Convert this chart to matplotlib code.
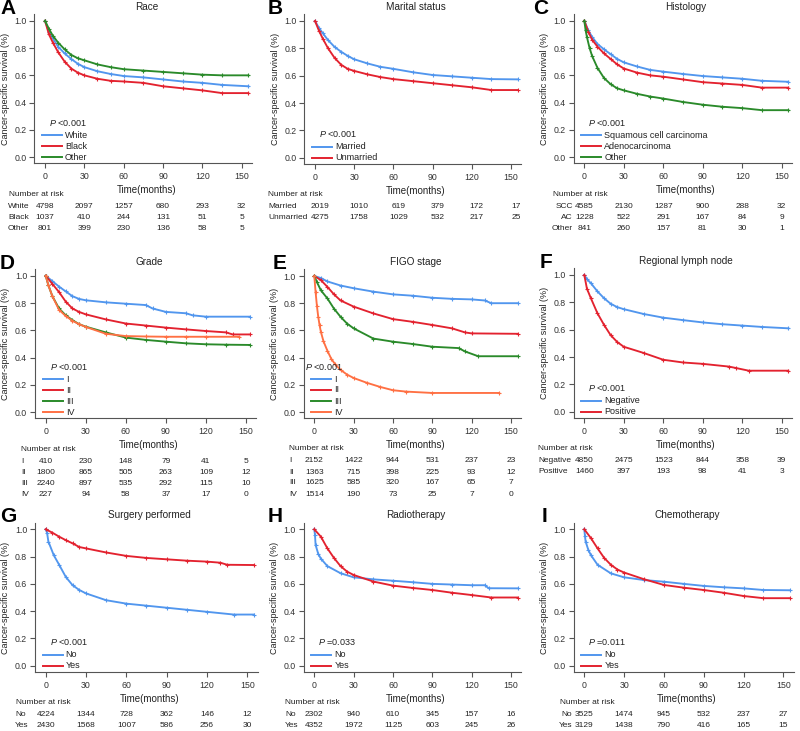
import numpy as np
import matplotlib
matplotlib.use("Agg")
import matplotlib.pyplot as plt

plt.rcParams['font.family'] = ['Liberation Sans', 'DejaVu Sans']
plt.rcParams['mathtext.fontset'] = 'custom'
plt.rcParams['mathtext.it'] = 'Liberation Sans:italic'
plt.rcParams['mathtext.rm'] = 'Liberation Sans'

BLUE = '#5196ee'
RED = '#e3222f'
GREEN = '#2a8a2a'
ORANGE = '#ff7043'

risk_times = [0, 30, 60, 90, 120, 150]

# ---- A: Race
race_t = [0, 3, 6, 10, 15, 20, 25, 30, 40, 50, 60, 75, 90, 105, 120, 135, 155]
race_white = [1.0, 0.92, 0.87, 0.81, 0.76, 0.72, 0.685, 0.66, 0.63, 0.61, 0.595, 0.585, 0.57, 0.555, 0.545, 0.53, 0.52]
race_black = [1.0, 0.90, 0.84, 0.77, 0.70, 0.65, 0.62, 0.60, 0.575, 0.56, 0.555, 0.545, 0.52, 0.505, 0.49, 0.47, 0.47]
race_other = [1.0, 0.94, 0.89, 0.84, 0.79, 0.75, 0.725, 0.71, 0.68, 0.66, 0.645, 0.635, 0.625, 0.615, 0.605, 0.60, 0.60]
race_risk_white = [4798, 2097, 1257, 680, 293, 32]
race_risk_black = [1037, 410, 244, 131, 51, 5]
race_risk_other = [801, 399, 230, 136, 58, 5]

# ---- B: Marital status
mar_t = [0, 3, 6, 10, 15, 20, 25, 30, 40, 50, 60, 75, 90, 105, 120, 135, 155]
mar_married = [1.0, 0.95, 0.91, 0.86, 0.81, 0.775, 0.745, 0.72, 0.69, 0.665, 0.65, 0.625, 0.605, 0.595, 0.585, 0.575, 0.573]
mar_unmarried = [1.0, 0.93, 0.87, 0.80, 0.73, 0.68, 0.65, 0.635, 0.61, 0.59, 0.575, 0.56, 0.545, 0.53, 0.515, 0.495, 0.495]
mar_risk_married = [2019, 1010, 619, 379, 172, 17]
mar_risk_unmarried = [4275, 1758, 1029, 532, 217, 25]

# ---- C: Histology
hist_t = [0, 3, 6, 10, 15, 20, 25, 30, 40, 50, 60, 75, 90, 105, 120, 135, 155]
hist_scc = [1.0, 0.93, 0.88, 0.83, 0.79, 0.755, 0.72, 0.695, 0.665, 0.64, 0.627, 0.61, 0.595, 0.585, 0.575, 0.56, 0.553]
hist_ac = [1.0, 0.92, 0.86, 0.81, 0.76, 0.72, 0.68, 0.65, 0.62, 0.60, 0.59, 0.57, 0.55, 0.54, 0.53, 0.51, 0.51]
hist_other_t = [0, 1, 2, 4, 6, 10, 15, 20, 25, 30, 40, 50, 60, 75, 90, 105, 120, 135, 155]
hist_other = [1.0, 0.93, 0.88, 0.80, 0.74, 0.655, 0.58, 0.535, 0.505, 0.49, 0.465, 0.445, 0.43, 0.405, 0.385, 0.37, 0.36, 0.345, 0.345]
hist_risk_scc = [4585, 2130, 1287, 900, 288, 32]
hist_risk_ac = [1228, 522, 291, 167, 84, 9]
hist_risk_other = [841, 260, 157, 81, 30, 1]

# ---- D: Grade
grade_t1 = [0, 5, 10, 15, 20, 25, 30, 45, 60, 75, 80, 90, 105, 110, 120, 153]
grade_1 = [1.0, 0.96, 0.92, 0.885, 0.85, 0.83, 0.82, 0.805, 0.795, 0.785, 0.76, 0.735, 0.725, 0.71, 0.70, 0.70]
grade_t2 = [0, 5, 10, 15, 20, 25, 30, 45, 60, 75, 90, 105, 120, 135, 140, 153]
grade_2 = [1.0, 0.94, 0.88, 0.81, 0.76, 0.735, 0.717, 0.68, 0.65, 0.635, 0.62, 0.607, 0.595, 0.585, 0.57, 0.57]
grade_t3 = [0, 2, 5, 10, 15, 20, 25, 30, 45, 60, 75, 90, 105, 120, 135, 153]
grade_3 = [1.0, 0.93, 0.85, 0.76, 0.71, 0.675, 0.645, 0.627, 0.585, 0.547, 0.53, 0.517, 0.505, 0.498, 0.495, 0.493]
grade_t4 = [0, 2, 5, 10, 15, 20, 25, 30, 45, 60, 75, 90, 105, 120, 145]
grade_4 = [1.0, 0.93, 0.85, 0.75, 0.705, 0.67, 0.645, 0.625, 0.575, 0.558, 0.555, 0.553, 0.553, 0.553, 0.553]
grade_risk_1 = [410, 230, 148, 79, 41, 5]
grade_risk_2 = [1800, 865, 505, 263, 109, 12]
grade_risk_3 = [2240, 897, 535, 292, 115, 10]
grade_risk_4 = [227, 94, 58, 37, 17, 0]

# ---- E: FIGO stage
figo_t1 = [0, 5, 10, 20, 30, 45, 60, 75, 90, 105, 120, 130, 135, 155]
figo_1 = [1.0, 0.985, 0.96, 0.93, 0.91, 0.885, 0.865, 0.855, 0.84, 0.832, 0.828, 0.82, 0.80, 0.80]
figo_t2 = [0, 5, 10, 15, 20, 30, 45, 60, 75, 90, 105, 115, 120, 155]
figo_2 = [1.0, 0.97, 0.92, 0.865, 0.82, 0.775, 0.725, 0.683, 0.663, 0.64, 0.615, 0.585, 0.578, 0.575]
figo_t3 = [0, 2, 5, 10, 15, 20, 25, 30, 45, 60, 75, 90, 110, 115, 125, 155]
figo_3 = [1.0, 0.955, 0.895, 0.835, 0.76, 0.70, 0.65, 0.615, 0.54, 0.517, 0.50, 0.48, 0.47, 0.445, 0.41, 0.41]
figo_t4 = [0, 1, 2, 3, 4, 5, 7, 10, 13, 16, 20, 25, 30, 40, 50, 60, 70, 90, 141]
figo_4 = [1.0, 0.88, 0.78, 0.70, 0.64, 0.59, 0.52, 0.45, 0.39, 0.35, 0.31, 0.275, 0.25, 0.215, 0.185, 0.16, 0.15, 0.14, 0.14]
figo_risk_1 = [2152, 1422, 944, 531, 237, 23]
figo_risk_2 = [1363, 715, 398, 225, 93, 12]
figo_risk_3 = [1625, 585, 320, 167, 65, 7]
figo_risk_4 = [1514, 190, 73, 25, 7, 0]

# ---- F: Regional lymph node
node_tn = [0, 2, 5, 10, 15, 20, 25, 30, 45, 60, 75, 90, 105, 120, 135, 155]
node_neg = [1.0, 0.97, 0.94, 0.88, 0.83, 0.79, 0.765, 0.75, 0.715, 0.688, 0.67, 0.653, 0.64, 0.63, 0.62, 0.61]
node_tp = [0, 2, 5, 10, 15, 20, 25, 30, 45, 60, 75, 90, 110, 115, 125, 155]
node_pos = [1.0, 0.90, 0.83, 0.72, 0.635, 0.56, 0.51, 0.475, 0.43, 0.38, 0.36, 0.35, 0.33, 0.32, 0.30, 0.30]
node_risk_neg = [4850, 2475, 1523, 844, 358, 39]
node_risk_pos = [1460, 397, 193, 98, 41, 3]

# ---- G: Surgery performed
surg_tn = [0, 1, 2, 6, 10, 15, 20, 25, 30, 45, 60, 75, 90, 105, 120, 140, 155]
surg_no = [1.0, 0.975, 0.91, 0.81, 0.74, 0.65, 0.59, 0.555, 0.53, 0.48, 0.455, 0.44, 0.425, 0.41, 0.395, 0.375, 0.375]
surg_ty = [0, 5, 10, 15, 20, 25, 30, 45, 60, 75, 90, 105, 120, 130, 135, 155]
surg_yes = [1.0, 0.975, 0.946, 0.92, 0.897, 0.87, 0.86, 0.83, 0.805, 0.79, 0.78, 0.77, 0.763, 0.755, 0.74, 0.738]
surg_risk_no = [4224, 1344, 728, 362, 146, 12]
surg_risk_yes = [2430, 1568, 1007, 586, 256, 30]

# ---- H: Radiotherapy
radio_tn = [0, 0.5, 1, 3, 5, 10, 20, 30, 45, 60, 75, 90, 105, 120, 130, 133, 155]
radio_no = [1.0, 0.96, 0.885, 0.82, 0.785, 0.73, 0.678, 0.648, 0.633, 0.623, 0.612, 0.60, 0.595, 0.59, 0.59, 0.568, 0.567]
radio_ty = [0, 5, 10, 15, 20, 25, 30, 45, 60, 75, 90, 105, 120, 135, 155]
radio_yes = [1.0, 0.946, 0.86, 0.79, 0.73, 0.69, 0.665, 0.617, 0.587, 0.57, 0.555, 0.535, 0.518, 0.50, 0.50]
radio_risk_no = [2302, 940, 610, 345, 157, 16]
radio_risk_yes = [4352, 1972, 1125, 603, 245, 26]

# ---- I: Chemotherapy
chemo_tn = [0, 0.5, 1, 3, 5, 10, 20, 30, 45, 60, 75, 90, 105, 120, 135, 155]
chemo_no = [1.0, 0.95, 0.91, 0.85, 0.81, 0.74, 0.677, 0.648, 0.628, 0.616, 0.60, 0.585, 0.575, 0.567, 0.555, 0.553]
chemo_ty = [0, 5, 10, 15, 20, 25, 30, 45, 60, 75, 90, 105, 120, 135, 155]
chemo_yes = [1.0, 0.935, 0.86, 0.79, 0.74, 0.705, 0.683, 0.634, 0.592, 0.572, 0.555, 0.535, 0.511, 0.495, 0.495]
chemo_risk_no = [3525, 1474, 945, 532, 237, 27]
chemo_risk_yes = [3129, 1438, 790, 416, 165, 15]

W, H = 800, 731
XLIM = (-8.1, 157.7)
YLIM = (-0.044, 1.049)

fig = plt.figure(figsize=(W / 100, H / 100), dpi=100)


def fx(x):
    return x / W


def fy(y):
    return 1 - y / H


def panel(letter, letter_x, title, x0, x150, y1, y0, curves, pval, risk_rows,
          p_dx=4, lab_x=None, lab_ha='left', head_x=None, num_dx=0):
    sx = (x150 - x0) / 150.0
    sy = (y0 - y1)
    left = x0 + XLIM[0] * sx
    right = x0 + XLIM[1] * sx
    bottom = y0 - YLIM[0] * sy
    top = y0 - YLIM[1] * sy
    ax = fig.add_axes([fx(left), fy(bottom), (right - left) / W, (bottom - top) / H])
    for t, s, c, lab in curves:
        ax.plot(t, s, color=c, lw=1.35, marker='+', ms=3.5, mew=0.8, label=lab)
    ax.set_xlim(*XLIM)
    ax.set_ylim(*YLIM)
    ax.set_xticks(risk_times)
    ax.set_yticks([0.0, 0.2, 0.4, 0.6, 0.8, 1.0])
    ax.set_yticklabels(['0.0', '0.2', '0.4', '0.6', '0.8', '1.0'])
    for sp in ['top', 'right']:
        ax.spines[sp].set_visible(False)
    for sp in ['left', 'bottom']:
        ax.spines[sp].set_color('#555555')
        ax.spines[sp].set_linewidth(0.8)
    ax.tick_params(length=3.6, width=0.8, color='#555555', labelsize=6.3,
                   labelcolor='#333333', pad=2)
    ax.tick_params(axis='x', pad=3)
    ax.patch.set_alpha(0)

    # title / letter / axis labels
    fig.text(fx((x0 + x150) / 2 + 3), fy(y1 - 14), title, ha='center', va='center', fontsize=7.2, color='#222222')
    fig.text(fx(letter_x), fy(y1 - 12.5), letter, ha='left', va='center', fontsize=15, fontweight='bold')
    fig.text(fx((x0 + x150) / 2 + 3), fy(y0 + 33), 'Time(months)', ha='center', va='center', fontsize=7, color='#222222')
    fig.text(fx(left - 29), fy((y0 + y1) / 2), 'Cancer-specific survival (%)', rotation=90,
             ha='center', va='center', fontsize=6.5, color='#222222')

    # legend
    n = len(curves)
    for i, (t, s, c, lab) in enumerate(curves):
        yy = y0 - 11 * (n - 1 - i)
        fig.add_artist(plt.Line2D([fx(x0 - 3), fx(x0 + 17)], [fy(yy), fy(yy)], color=c, lw=1.4))
        fig.text(fx(x0 + 20), fy(yy), lab, ha='left', va='center', fontsize=6.5, color='#222222')
    fig.text(fx(x0 + p_dx), fy(y0 - 11 * (n - 1) - 12.5), pval, ha='left', va='center',
             fontsize=6.5, color='#222222')

    # number at risk
    if lab_x is None:
        lab_x = left - 27
    if head_x is None:
        head_x = lab_x
    fig.text(fx(head_x), fy(y0 + 37), 'Number at risk', ha='left', va='center', fontsize=6, color='#222222')
    for i, (lab, vals) in enumerate(risk_rows):
        yy = y0 + 49 + 11 * i
        fig.text(fx(lab_x), fy(yy), lab, ha=lab_ha, va='center', fontsize=6, color='#222222')
        for t, v in zip(risk_times, vals):
            fig.text(fx(x0 + t * sx + num_dx), fy(yy), str(v), ha='center', va='center', fontsize=6, color='#222222')
    return ax


panel('A', 0, 'Race', 45, 241.7, 20.7, 157.3,
      [(race_t, race_white, BLUE, 'White'), (race_t, race_black, RED, 'Black'),
       (race_t, race_other, GREEN, 'Other')],
      '$P$ <0.001',
      [('White', race_risk_white), ('Black', race_risk_black), ('Other', race_risk_other)],
      lab_x=8, head_x=9)

panel('B', 268, 'Marital status', 315, 511, 21, 157.7,
      [(mar_t, mar_married, BLUE, 'Married'), (mar_t, mar_unmarried, RED, 'Unmarried')],
      '$P$ <0.001',
      [('Married', mar_risk_married), ('Unmarried', mar_risk_unmarried)],
      lab_x=268, head_x=268, num_dx=5)

panel('C', 533, 'Histology', 584.3, 781.7, 20.7, 157.3,
      [(hist_t, hist_scc, BLUE, 'Squamous cell carcinoma'), (hist_t, hist_ac, RED, 'Adenocarcinoma'),
       (hist_other_t, hist_other, GREEN, 'Other')],
      '$P$ <0.001',
      [('SCC', hist_risk_scc), ('AC', hist_risk_ac), ('Other', hist_risk_other)],
      lab_x=573, lab_ha='right', head_x=553)

panel('D', 0, 'Grade', 45.7, 246, 275.7, 412.3,
      [(grade_t1, grade_1, BLUE, 'I'), (grade_t2, grade_2, RED, 'II'),
       (grade_t3, grade_3, GREEN, 'III'), (grade_t4, grade_4, ORANGE, 'IV')],
      '$P$ <0.001',
      [('I', grade_risk_1), ('II', grade_risk_2), ('III', grade_risk_3), ('IV', grade_risk_4)],
      lab_x=21, head_x=21)

panel('E', 273, 'FIGO stage', 314.3, 511, 276, 412,
      [(figo_t1, figo_1, BLUE, 'I'), (figo_t2, figo_2, RED, 'II'),
       (figo_t3, figo_3, GREEN, 'III'), (figo_t4, figo_4, ORANGE, 'IV')],
      '$P$ <0.001',
      [('I', figo_risk_1), ('II', figo_risk_2), ('III', figo_risk_3), ('IV', figo_risk_4)],
      p_dx=-9, lab_x=289, head_x=289)

panel('F', 540, 'Regional lymph node', 584.3, 781.7, 275, 411.7,
      [(node_tn, node_neg, BLUE, 'Negative'), (node_tp, node_pos, RED, 'Positive')],
      '$P$ <0.001',
      [('Negative', node_risk_neg), ('Positive', node_risk_pos)],
      lab_x=538, head_x=538)

panel('G', 0, 'Surgery performed', 45.7, 247.3, 529.3, 665.7,
      [(surg_tn, surg_no, BLUE, 'No'), (surg_ty, surg_yes, RED, 'Yes')],
      '$P$ <0.001',
      [('No', surg_risk_no), ('Yes', surg_risk_yes)],
      lab_x=15, head_x=16)

panel('H', 268, 'Radiotherapy', 314.3, 511, 529.3, 665.7,
      [(radio_tn, radio_no, BLUE, 'No'), (radio_ty, radio_yes, RED, 'Yes')],
      '$P$ =0.033',
      [('No', radio_risk_no), ('Yes', radio_risk_yes)],
      lab_x=285, head_x=285)

panel('I', 542, 'Chemotherapy', 584.3, 783.3, 529.3, 665.7,
      [(chemo_tn, chemo_no, BLUE, 'No'), (chemo_ty, chemo_yes, RED, 'Yes')],
      '$P$ =0.011',
      [('No', chemo_risk_no), ('Yes', chemo_risk_yes)],
      lab_x=572, lab_ha='right', head_x=560)

fig.savefig('out.png', dpi=100)
